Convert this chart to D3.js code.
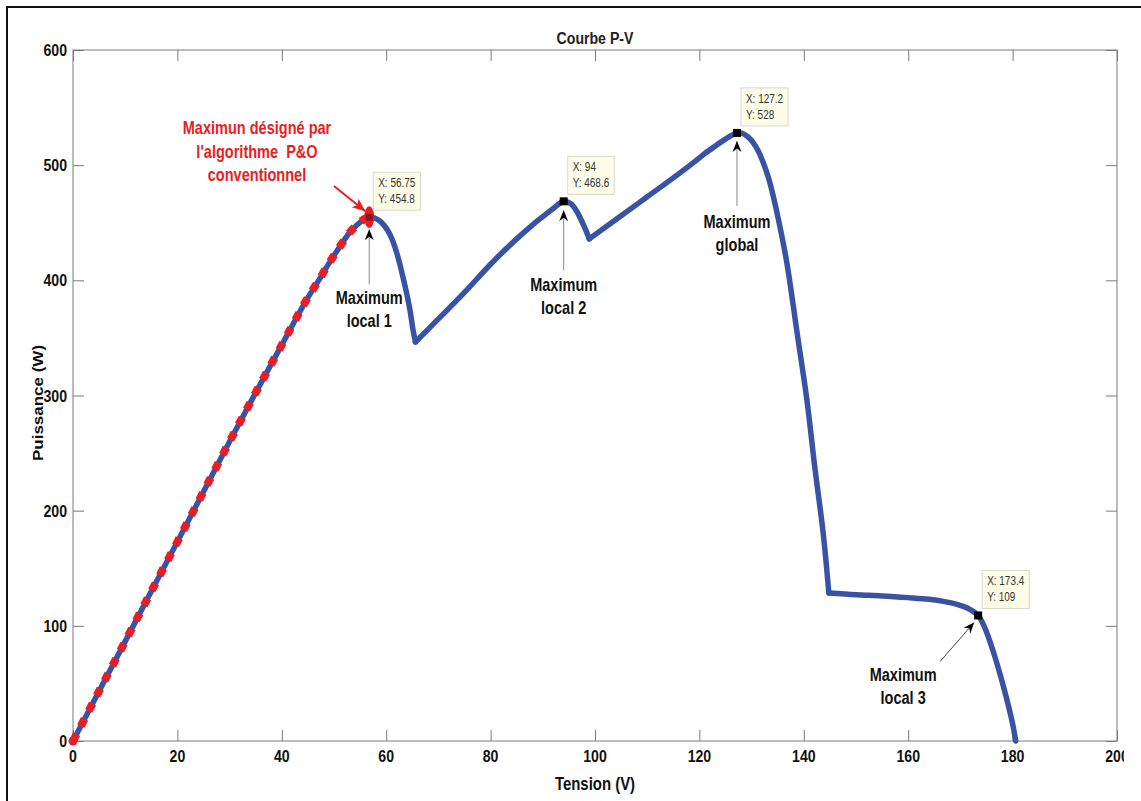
<!DOCTYPE html>
<html>
<head>
<meta charset="utf-8">
<script src="https://cdn.jsdelivr.net/npm/d3@7"></script>
<style>
  body { margin: 0; background: #fff; }
  svg { display: block; }
</style>
</head>
<body>
<script>
// P-V characteristic of a partially shaded PV array
const voltage = [
  0, 5, 10, 15, 20, 25, 30, 35, 40, 43, 45, 47, 49, 51, 53, 54.5, 55.75, 56.75,
  57.8, 58.8, 59.8, 60.7, 61.6, 62.5, 63.3, 64, 64.6, 65.1, 65.6,
  70, 75, 80, 85, 88, 90.5, 92.3, 94,
  95.2, 96, 96.8, 97.6, 98.3, 98.9,
  105, 110, 115, 118.8, 121, 123, 124.6, 126, 127.2,
  128.3, 129.3, 130.3, 131.3, 132.2, 133.2, 134.1, 135.5, 136.8, 138.7, 140.6, 142.1, 143.7, 144.8,
  150, 155, 160, 164, 167, 169.5, 171.3, 173.4,
  174.8, 176.2, 177.6, 178.9, 180, 180.6
];
const power = [
  0, 43.3, 86.5, 130, 173, 216.5, 260, 302.5, 344, 369, 385, 399.5, 414.5, 428.5, 441.5, 448.5, 453, 454.8,
  454, 451.5, 446.5, 440, 430, 416, 401, 387, 373, 358, 346.5,
  366.5, 389.5, 414, 436, 448, 457, 463.5, 468.6,
  467, 463.5, 457.5, 450, 443, 436,
  456, 472.5, 489, 502, 510, 516.5, 521.5, 525.5, 528,
  527.5, 524.5, 519.5, 512, 502.5, 489.5, 474, 445, 414, 355, 296, 238, 181, 128.5,
  127, 126, 124.5, 123, 121, 118.5, 115.5, 109,
  97, 79, 58, 36, 15, 0
];
// bypass-diode knees where the curve changes slope abruptly
const kneeVoltage = [65.6, 98.9, 144.8];

// Operating point reached by the conventional P&O tracker
const poVoltage = 56.75;
const poPower = 454.8;

// Data tips on the curve maxima
const tipVoltage = [56.75, 94, 127.2, 173.4];
const tipPower = [454.8, 468.6, 528, 109];
const tipXText = ["X: 56.75", "X: 94", "X: 127.2", "X: 173.4"];
const tipYText = ["Y: 454.8", "Y: 468.6", "Y: 528", "Y: 109"];

// Text under each maximum
const maxLabels = [
  ["Maximum", "local 1"],
  ["Maximum", "local 2"],
  ["Maximum", "global"],
  ["Maximum", "local 3"]
];
const poLabel = ["Maximun désigné par", "l'algorithme  P&O", "conventionnel"];

const xTicks = [0, 20, 40, 60, 80, 100, 120, 140, 160, 180, 200];
const yTicks = [0, 100, 200, 300, 400, 500, 600];

const titleText = "Courbe P-V";
const xLabel = "Tension (V)";
const yLabel = "Puissance (W)";

// ---------------------------------------------------------------
const W = 1141, H = 801;
const M = { left: 73, top: 50, right: 1117, bottom: 741 };
const SQUEEZE = 0.83;          // horizontal compression of the lettering
const FONT = "'Liberation Sans', Arial, Helvetica, sans-serif";
const BLUE = "#3953a4", RED = "#ec1c24";

const svg = d3.select("body").append("svg").attr("width", W).attr("height", H);

const x = d3.scaleLinear().domain([0, 200]).range([M.left, M.right]);
const y = d3.scaleLinear().domain([0, 600]).range([M.bottom, M.top]);

// outer frame
svg.append("rect").attr("x", 7).attr("y", 7).attr("width", W + 20).attr("height", H + 20)
  .attr("fill", "none").attr("stroke", "#111").attr("stroke-width", 2);

// horizontally condensed text helper
function label(g, tx, ty, str, opts) {
  const o = Object.assign({ size: 16, weight: "bold", anchor: "middle", fill: "#111" }, opts || {});
  return g.append("text")
    .attr("transform", `translate(${tx},${ty}) scale(${SQUEEZE},1)`)
    .attr("text-anchor", o.anchor)
    .attr("font-family", FONT)
    .attr("font-size", o.size)
    .attr("font-weight", o.weight)
    .attr("fill", o.fill)
    .style("white-space", "pre")
    .text(str);
}

// axes box with inward ticks on all four sides
const tickLen = 11;
const axisColor = "#7a7a7a";
const axG = svg.append("g");
axG.append("rect").attr("x", M.left).attr("y", M.top)
  .attr("width", M.right - M.left).attr("height", M.bottom - M.top)
  .attr("fill", "none").attr("stroke", axisColor).attr("stroke-width", 1);

const bottomAxis = d3.axisBottom(x).tickValues(xTicks).tickSize(-tickLen).tickFormat("");
const topAxis = d3.axisTop(x).tickValues(xTicks).tickSize(-tickLen).tickFormat("");
const leftAxis = d3.axisLeft(y).tickValues(yTicks).tickSize(-tickLen).tickFormat("");
const rightAxis = d3.axisRight(y).tickValues(yTicks).tickSize(-tickLen).tickFormat("");

[[bottomAxis, `translate(0,${M.bottom})`], [topAxis, `translate(0,${M.top})`],
 [leftAxis, `translate(${M.left},0)`], [rightAxis, `translate(${M.right},0)`]].forEach(([ax, tr]) => {
  const g = axG.append("g").attr("transform", tr).call(ax);
  g.select(".domain").remove();
  g.selectAll(".tick line").attr("stroke", axisColor).attr("stroke-width", 1);
});

// tick labels
svg.append("clipPath").attr("id", "figClip")
  .append("rect").attr("x", 0).attr("y", 0).attr("width", 1124).attr("height", H);
const xLab = svg.append("g").attr("clip-path", "url(#figClip)");
xTicks.forEach(t => label(xLab, x(t), 762, d3.format("d")(t), { size: 17 }));
const yLab = svg.append("g");
yTicks.forEach(t => label(yLab, 67, y(t) + 6, d3.format("d")(t), { size: 17, anchor: "end" }));

// title and axis titles
label(svg, (M.left + M.right) / 2, 44, titleText, { size: 17, weight: "bold", fill: "#222" });
label(svg, (M.left + M.right) / 2, 790, xLabel, { size: 18 });
svg.append("text")
  .attr("transform", `translate(43,403) rotate(-90) scale(1,${SQUEEZE})`)
  .attr("text-anchor", "middle")
  .attr("font-family", FONT).attr("font-size", 17).attr("font-weight", "bold")
  .attr("fill", "#111").text(yLabel);

// P-V curve: smooth pieces between the knees, sharp at the knees
const pts = voltage.map((v, i) => [v, power[i]]);
const line = d3.line().x(d => x(d[0])).y(d => y(d[1])).curve(d3.curveCatmullRom.alpha(0.5));
const bounds = [0, ...kneeVoltage, Infinity];
const pieces = d3.range(bounds.length - 1)
  .map(k => pts.filter(d => d[0] >= bounds[k] && d[0] <= bounds[k + 1]));
svg.append("g").selectAll("path").data(pieces).join("path")
  .attr("d", line)
  .attr("fill", "none").attr("stroke", BLUE).attr("stroke-width", 5.5)
  .attr("stroke-linejoin", "round").attr("stroke-linecap", "round");

// P&O trajectory up to its operating point
const poPts = pts.filter(d => d[0] <= poVoltage);
svg.append("path").datum(poPts).attr("d", line)
  .attr("fill", "none").attr("stroke", RED).attr("stroke-width", 8)
  .attr("stroke-dasharray", "8 9").attr("stroke-linejoin", "round");
svg.append("circle").attr("cx", x(0)).attr("cy", y(0)).attr("r", 4.5).attr("fill", RED);

// data-tip markers
tipVoltage.forEach((v, i) => {
  const px = x(v), py = y(tipPower[i]);
  if (v === poVoltage) {
    svg.append("ellipse").attr("cx", px).attr("cy", py).attr("rx", 5).attr("ry", 11).attr("fill", RED);
    svg.append("rect").attr("x", px - 3.5).attr("y", py - 3.5).attr("width", 7).attr("height", 7)
      .attr("fill", "#8a1418");
  } else {
    svg.append("rect").attr("x", px - 4).attr("y", py - 4).attr("width", 8).attr("height", 8)
      .attr("fill", "#000");
  }
});

// data-tip boxes
tipVoltage.forEach((v, i) => {
  const px = x(v), py = y(tipPower[i]);
  const g = svg.append("g");
  const left = px + 4, top = py - 45;
  const box = g.append("rect").attr("x", left).attr("y", top).attr("height", 38)
    .attr("fill", "#fdfde8").attr("stroke", "#d8d8cc").attr("stroke-width", 1);
  const t1 = label(g, left + 5, top + 15, tipXText[i], { size: 12, weight: "normal", anchor: "start", fill: "#333" });
  const t2 = label(g, left + 5, top + 31, tipYText[i], { size: 12, weight: "normal", anchor: "start", fill: "#333" });
  const w = Math.max(t1.node().getBBox().width, t2.node().getBBox().width) * SQUEEZE;
  box.attr("width", w + 10);
});

// annotation arrows and texts
const arrowDefs = svg.append("defs");
arrowDefs.append("marker").attr("id", "headBlack")
  .attr("viewBox", "-12 -6 14 12").attr("refX", 0).attr("refY", 0)
  .attr("markerWidth", 14).attr("markerHeight", 12).attr("markerUnits", "userSpaceOnUse")
  .attr("orient", "auto")
  .append("path").attr("d", "M0,0 L-11,-4.5 L-7.5,0 L-11,4.5 Z").attr("fill", "#000");
arrowDefs.append("marker").attr("id", "headRed")
  .attr("viewBox", "-14 -7 16 14").attr("refX", 0).attr("refY", 0)
  .attr("markerWidth", 16).attr("markerHeight", 14).attr("markerUnits", "userSpaceOnUse")
  .attr("orient", "auto")
  .append("path").attr("d", "M0,0 L-13,-5.5 L-10,0 L-13,5.5 Z").attr("fill", RED);

// offsets (px) of arrow tail, arrow tip and text from each maximum
const annLayout = [
  { tail: [0, 67], tip: [0, 12], text: [0, 87] },
  { tail: [0, 69], tip: [0, 9], text: [0, 90] },
  { tail: [0, 73], tip: [0, 8], text: [0, 95] },
  { tail: [-38, 46], tip: [-4, 7], text: [-75, 66] }
];
tipVoltage.forEach((v, i) => {
  const px = x(v), py = y(tipPower[i]);
  const L = annLayout[i];
  svg.append("line")
    .attr("x1", px + L.tail[0]).attr("y1", py + L.tail[1])
    .attr("x2", px + L.tip[0]).attr("y2", py + L.tip[1])
    .attr("stroke", i === 3 ? "#444" : "#8a8a8a").attr("stroke-width", 1)
    .attr("marker-end", "url(#headBlack)");
  maxLabels[i].forEach((s, k) => label(svg, px + L.text[0], py + L.text[1] + k * 23, s, { size: 17.5 }));
});

// P&O annotation
poLabel.forEach((s, k) => label(svg, 257, 134 + k * 23.5, s, { size: 17.5, fill: RED }));
svg.append("line")
  .attr("x1", 334).attr("y1", 186)
  .attr("x2", x(poVoltage) - 4).attr("y2", y(poPower) - 6)
  .attr("stroke", RED).attr("stroke-width", 2)
  .attr("marker-end", "url(#headRed)");
</script>
</body>
</html>
